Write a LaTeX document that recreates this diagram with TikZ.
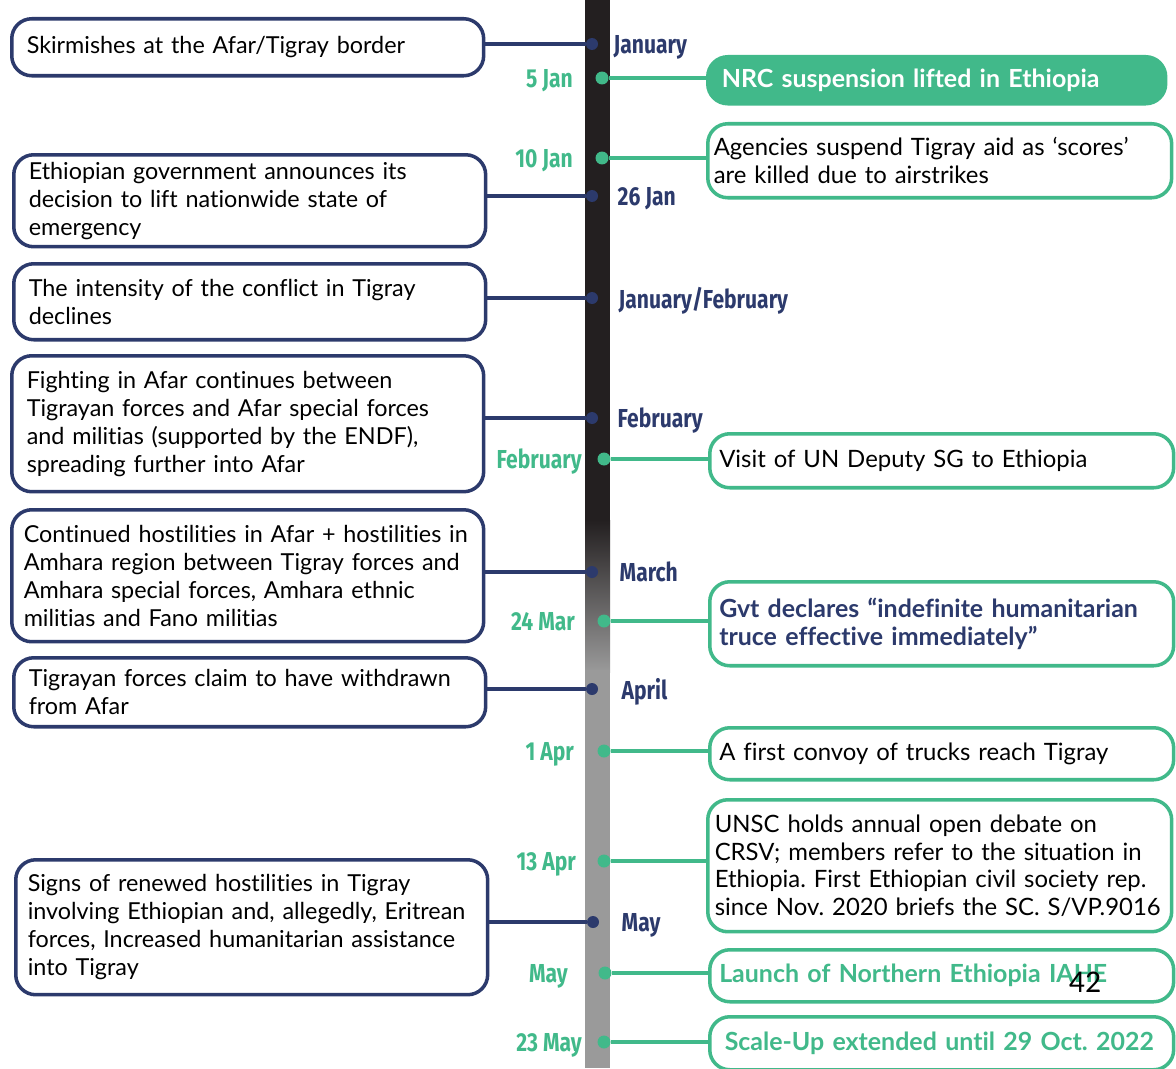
\documentclass[tikz,border=0pt]{standalone}
\usepackage{fontspec}
\setmainfont{Lato}[Ligatures={NoCommon}]
\newfontfamily\labfont[FakeStretch=0.81]{Fira Sans}
\newfontfamily\pagefont{Carlito}
\usetikzlibrary{positioning}
\definecolor{TimelineNavy}{HTML}{2C3A6C}
\definecolor{TimelineGreen}{HTML}{41B98A}
\definecolor{BarDark}{HTML}{231F20}
\definecolor{BarGrey}{HTML}{9A9A9A}
\frenchspacing

\begin{document}
\begin{tikzpicture}[
    x=0.02cm, y=-0.02cm,
    leftbox/.style={draw=TimelineNavy, line width=2pt, rounded corners=0.4cm, fill=white,
      anchor=north west, text width=9.2cm, inner xsep=0.12cm, align=left,
      execute at begin node={\leftskip=0.18cm},
      font=\fontsize{13.3}{15.9}\selectfont},
    rightbox/.style={draw=TimelineGreen, line width=2pt, rounded corners=0.4cm, fill=white,
      anchor=north west, text width=8.9cm, inner xsep=0.19cm, align=left,
      font=\fontsize{13.6}{15.9}\selectfont},
    boldbox/.style={rightbox, font=\bfseries\fontsize{14.2}{15.9}\selectfont},
    navydot/.style={circle, fill=TimelineNavy, inner sep=0pt, minimum size=0.24cm},
    greendot/.style={circle, fill=TimelineGreen, inner sep=0pt, minimum size=0.26cm},
    navylab/.style={text=TimelineNavy, inner sep=0pt, text depth=0pt,
      font=\labfont\bfseries\fontsize{14.8}{16}\selectfont},
    greenlab/.style={navylab, text=TimelineGreen},
    navyline/.style={draw=TimelineNavy, line width=2pt},
    greenline/.style={draw=TimelineGreen, line width=2pt}
  ]
    \useasboundingbox (0,0) rectangle (1176,1068);
    % the time bar
    \fill[BarDark] (585,0) rectangle (610,522);
    \shade[top color=BarDark, bottom color=BarGrey] (585,520) rectangle (610,672);
    \fill[BarGrey] (585,670) rectangle (610,1068);

    % events on the left
    \node[leftbox, minimum height=1.14cm] (skirmish) at (10,17) {Skirmishes at the Afar/Tigray border};
    \node[leftbox, minimum height=1.84cm] (emergency) at (12,153) {Ethiopian government announces its\\decision to lift nationwide state of\\emergency};
    \node[leftbox, minimum height=1.52cm] (intensity) at (12,262) {The intensity of the conflict in Tigray\\declines};
    \node[leftbox, minimum height=2.72cm] (fighting) at (10,354) {Fighting in Afar continues between\\Tigrayan forces and Afar special forces\\and militias (supported by the ENDF),\\spreading further into Afar};
    \node[leftbox, minimum height=2.64cm, execute at begin node={\leftskip=0.12cm}] (amhara) at (10,508) {Continued hostilities in Afar + hostilities in\\Amhara region between Tigray forces and\\Amhara special forces, Amhara ethnic\\militias and Fano militias};
    \node[leftbox, minimum height=1.38cm] (withdrawn) at (12,656) {Tigrayan forces claim to have withdrawn\\from Afar};
    \node[leftbox, minimum height=2.70cm, execute at begin node={\leftskip=0.12cm}] (renewed) at (14,858) {Signs of renewed hostilities in Tigray\\involving Ethiopian and, allegedly, Eritrean\\forces, Increased humanitarian assistance\\into Tigray};

    % events on the right
    \node[boldbox, fill=TimelineGreen, text=white, minimum height=0.94cm, text width=8.6cm, inner xsep=0.28cm] (nrc) at (706,55) {NRC suspension lifted in Ethiopia};
    \node[rightbox, minimum height=1.48cm, inner xsep=0.12cm, text width=9.04cm] (agencies) at (706,122) {Agencies suspend Tigray aid as ‘scores’\\are killed due to airstrikes};
    \node[rightbox, minimum height=1.08cm] (visit) at (708,432) {Visit of UN Deputy SG to Ethiopia};
    \node[boldbox, text=TimelineNavy, minimum height=1.68cm] (truce) at (708,580) {Gvt declares “indefinite humanitarian\\truce effective immediately”};
    \node[rightbox, minimum height=1.04cm] (convoy) at (708,726) {A first convoy of trucks reach Tigray};
    \node[rightbox, minimum height=2.64cm, inner xsep=0.14cm, text width=9cm] (unsc) at (706,798) {UNSC holds annual open debate on\\CRSV; members refer to the situation in\\Ethiopia. First Ethiopian civil society rep.\\since Nov. 2020 briefs the SC. S/VP.9016};
    \node[boldbox, text=TimelineGreen, minimum height=1.04cm] (iahe) at (708,948) {Launch of Northern Ethiopia IAHE};
    \node[boldbox, text=TimelineGreen, minimum height=1.06cm, inner xsep=0.3cm, text width=8.68cm] (scaleup) at (708,1015) {Scale-Up extended until 29 Oct. 2022};

    % dots and dates
    \node[navydot] (jan) at (592,44) {};
    \node[navydot] (jan26) at (592,196) {};
    \node[navydot] (janfeb) at (592,298) {};
    \node[navydot] (feb) at (592,418) {};
    \node[navydot] (mar) at (592,572) {};
    \node[navydot] (apr) at (592,689) {};
    \node[navydot] (may) at (593,922) {};
    \node[greendot] (jan5) at (602,78) {};
    \node[greendot] (jan10) at (602,158) {};
    \node[greendot] (febg) at (604,459) {};
    \node[greendot] (mar24) at (604,621) {};
    \node[greendot] (apr1) at (604,751) {};
    \node[greendot] (apr13) at (604,861) {};
    \node[greendot] (mayg) at (605,973) {};
    \node[greendot] (may23) at (604,1042) {};

    \node[navylab, right=0.3cm of jan] (janlab) {January};
    \node[navylab, right=0.38cm of jan26] (jan26lab) {26 Jan};
    \node[navylab, right=0.4cm of janfeb] (janfeblab) {January/February};
    \node[navylab, right=0.38cm of feb] (feblab) {February};
    \node[navylab, right=0.42cm of mar] (marlab) {March};
    \node[navylab, right=0.46cm of apr] (aprlab) {April};
    \node[navylab, right=0.44cm of may] (maylab) {May};
    \node[greenlab, left=0.44cm of jan5] (jan5lab) {5 Jan};
    \node[greenlab, left=0.44cm of jan10] (jan10lab) {10 Jan};
    \node[greenlab, left=0.3cm of febg] (febglab) {February};
    \node[greenlab, left=0.44cm of mar24] (mar24lab) {24 Mar};
    \node[greenlab, left=0.46cm of apr1] (apr1lab) {1 Apr};
    \node[greenlab, left=0.42cm of apr13] (apr13lab) {13 Apr};
    \node[greenlab, left=0.6cm of mayg] (mayglab) {May};
    \node[greenlab, left=0.3cm of may23] (may23lab) {23 May};

    % connectors
    \draw[navyline] (jan) -- (jan -| skirmish.east);
    \draw[navyline] (jan26) -- (jan26 -| emergency.east);
    \draw[navyline] (janfeb) -- (janfeb -| intensity.east);
    \draw[navyline] (feb) -- (feb -| fighting.east);
    \draw[navyline] (mar) -- (mar -| amhara.east);
    \draw[navyline] (apr) -- (apr -| withdrawn.east);
    \draw[navyline] (may) -- (may -| renewed.east);
    \draw[greenline] (jan5) -- (jan5 -| nrc.west);
    \draw[greenline] (jan10) -- (jan10 -| agencies.west);
    \draw[greenline] (febg) -- (febg -| visit.west);
    \draw[greenline] (mar24) -- (mar24 -| truce.west);
    \draw[greenline] (apr1) -- (apr1 -| convoy.west);
    \draw[greenline] (apr13) -- (apr13 -| unsc.west);
    \draw[greenline] (mayg) -- (mayg -| iahe.west);
    \draw[greenline] (may23) -- (may23 -| scaleup.west);

    \node[font=\pagefont\fontsize{18}{20}\selectfont, inner sep=0pt] (page) at (1085,982) {42};
\end{tikzpicture}
\end{document}
